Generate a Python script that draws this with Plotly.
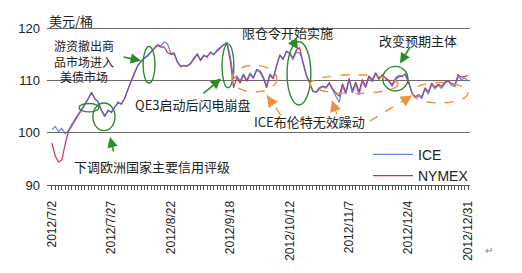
import pandas as pd
import plotly.graph_objects as go

# ---- data ----
holidays = ["2012-07-04", "2012-09-03", "2012-11-22", "2012-12-25"]
trade_days = [d for d in pd.bdate_range("2012-07-02", "2012-12-31") if d.strftime("%Y-%m-%d") not in holidays]
date_labels = [f"{d.year}/{d.month}/{d.day}" for d in trade_days]
label_every = 18

ice = [100.6, 101.2, 100.2, 100.8, 99.8, 100.4, 101.6, 102.6, 103.6, 104.4,
       105.6, 106.6, 107.8, 106.4, 106.0, 104.2, 103.0, 104.4, 103.8, 105.0,
       105.9, 105.4, 106.6, 108.4, 110.0, 111.6, 112.8, 113.8, 114.2, 114.9,
       115.4, 116.3, 116.9, 116.6, 117.4, 117.0, 115.2, 115.3, 113.6, 112.6,
       112.9, 112.7, 113.4, 114.4, 115.1, 114.0, 114.9, 114.4, 115.5, 114.9,
       115.9, 116.4, 116.9, 117.3, 114.6, 110.4, 110.9, 109.9, 111.3, 110.1,
       111.4, 110.6, 112.1, 111.9, 110.7, 109.0, 111.3, 110.5, 112.9, 114.8,
       114.2, 115.5, 115.1, 114.0, 115.4, 115.3, 113.7, 111.2, 109.7, 108.1,
       107.7, 108.4, 108.8, 108.5, 109.4, 108.2, 107.2, 105.8, 108.9, 107.4,
       110.1, 107.6, 109.3, 107.2, 109.8, 108.6, 110.6, 109.8, 111.2, 110.2,
       110.9, 110.4, 109.8, 108.9, 110.1, 110.7, 110.9, 111.1, 109.5, 107.8,
       106.7, 107.0, 106.6, 108.3, 107.4, 109.2, 108.4, 109.1, 108.5, 109.4,
       109.9, 109.1, 108.8, 110.8, 110.2, 110.5, 109.9]

nymex = [98.0, 95.5, 94.4, 94.8, 97.8, 100.3, 101.3, 102.4, 103.4, 104.3,
         105.4, 106.7, 107.6, 106.6, 105.8, 104.3, 103.3, 104.2, 104.0, 104.9,
         105.7, 105.6, 106.5, 108.2, 109.9, 111.4, 112.9, 113.6, 114.3, 114.7,
         115.5, 116.1, 116.7, 116.4, 116.4, 115.3, 115.0, 115.1, 113.5, 112.7,
         112.8, 112.8, 113.2, 114.2, 115.0, 113.8, 114.7, 114.6, 115.3, 115.0,
         115.7, 116.2, 116.8, 117.1, 113.8, 108.6, 110.6, 109.5, 111.0, 109.8,
         111.2, 110.4, 112.0, 111.6, 110.5, 108.6, 111.0, 110.3, 112.6, 114.9,
         114.0, 115.6, 115.3, 114.3, 115.8, 116.3, 113.4, 111.0, 109.5, 107.9,
         107.8, 108.6, 108.9, 108.7, 109.6, 108.4, 107.6, 107.0, 109.4, 107.7,
         110.4, 108.0, 109.7, 107.8, 110.2, 108.9, 110.9, 110.1, 111.5, 110.4,
         111.1, 110.6, 110.0, 109.2, 110.4, 110.9, 110.7, 111.3, 109.8, 107.6,
         106.9, 107.3, 106.9, 108.6, 107.8, 109.5, 108.7, 109.3, 108.9, 109.7,
         110.0, 109.4, 109.1, 111.1, 110.6, 110.8, 110.9]

y_ticks = [90, 100, 110, 120]

# ---- figure ----
W, H = 522, 273
ML, MR, MT, MB = 47, 52, 23, 78
PW, PH = W - ML - MR, H - MT - MB
CJK = "Noto Sans CJK SC"
LAT = "Liberation Sans, Arial"

def px(X):
    return (X - ML) / PW

def py(Y):
    return (H - MB - Y) / PH

n = len(ice)
xs = list(range(n))
ticktext = [date_labels[i] if i % label_every == 0 else "" for i in xs]

fig = go.Figure()
fig.add_trace(go.Scatter(x=xs, y=nymex, mode="lines", name="NYMEX",
                         line=dict(color="#c8344c", width=1.2), legendrank=2,
                         legendgroup="b"))
fig.add_trace(go.Scatter(x=xs, y=ice, mode="lines", name="ICE",
                         line=dict(color="#4466d6", width=1.2), opacity=0.8,
                         legendrank=1, legendgroup="a"))

GREEN = "#2f8a2f"
ORANGE = "#f0903a"

def ell(x0, x1, y0, y1, color, dash="solid", width=1.4):
    fig.add_shape(type="circle", xref="x", yref="y", x0=x0, x1=x1, y0=y0, y1=y1,
                  line=dict(color=color, width=width, dash=dash), layer="above")

# green ellipses (data coordinates: index, price)
ell(8.2, 14.2, 104.0, 105.6, GREEN)
ell(12.4, 19.1, 100.4, 105.7, GREEN)
ell(27.6, 31.2, 109.5, 116.5, GREEN)
ell(51.5, 55.1, 108.6, 117.0, GREEN)
ell(71.2, 78.4, 105.3, 117.4, GREEN)
ell(100.2, 107.8, 108.0, 112.7, GREEN)
# orange dashed ellipses
ell(54.5, 68.1, 107.8, 112.9, ORANGE, "dash")
ell(78.1, 104.8, 107.5, 111.1, ORANGE, "dash")
ell(109.0, 126.0, 105.7, 109.6, ORANGE, "dash")

def text(X, Y, s, size=13, anchor="left", font=CJK, color="#222222"):
    fig.add_annotation(x=px(X), y=py(Y), xref="paper", yref="paper", text=s,
                       showarrow=False, xanchor=anchor, yanchor="middle", align="center",
                       font=dict(family=font, size=size, color=color))

text(47, 20, "美元/桶")
text(84, 63, "游资撤出商<br>品市场进入<br>美债市场", size=12, anchor="center")
text(72, 175, "下调欧洲国家主要信用评级")
text(133, 110, "QE3启动后闪电崩盘")
text(252, 128, "ICE布伦特无效躁动")
text(240, 33, "限仓令开始实施")
text(377, 42, "改变预期主体")
text(483, 263, "↵", size=10, color="#888888")

def arrow(tx, ty, hx, hy, color):
    fig.add_annotation(x=px(hx), y=py(hy), xref="paper", yref="paper", text="",
                       showarrow=True, ax=tx - hx, ay=ty - hy, axref="pixel", ayref="pixel",
                       arrowhead=2, arrowsize=1.3, arrowwidth=1.6, arrowcolor=color)

arrow(122, 59, 141, 63, GREEN)
arrow(114, 160, 110, 144, GREEN)
arrow(202, 98, 221, 82, GREEN)
arrow(291, 40, 298, 51, GREEN)
arrow(411, 48, 400, 66, GREEN)

def dashed_arrow(tx, ty, hx, hy):
    fig.add_shape(type="line", xref="paper", yref="paper", x0=px(tx), y0=py(ty),
                  x1=px(hx), y1=py(hy), line=dict(color=ORANGE, width=1.4, dash="dash"))
    dx, dy = tx - hx, ty - hy
    L = (dx * dx + dy * dy) ** 0.5
    fig.add_annotation(x=px(hx), y=py(hy), xref="paper", yref="paper", text="",
                       showarrow=True, ax=dx / L * 7, ay=dy / L * 7, axref="pixel", ayref="pixel",
                       arrowhead=2, arrowsize=1.4, arrowwidth=1.6, arrowcolor=ORANGE)

dashed_arrow(281, 121, 267, 100)
dashed_arrow(337, 120, 332, 105)
dashed_arrow(370, 127, 412, 100)

fig.update_layout(
    width=W, height=H,
    margin=dict(l=ML, r=MR, t=MT, b=MB),
    paper_bgcolor="white", plot_bgcolor="white",
    font=dict(family=LAT, size=12, color="#222222"),
    showlegend=True,
    legend=dict(x=px(368), y=py(146), xanchor="left", yanchor="top",
                bgcolor="rgba(0,0,0,0)", font=dict(family=LAT, size=14, color="#222222"),
                itemwidth=40, tracegroupgap=2, traceorder="normal"),
    xaxis=dict(range=[-1.5, 126.6], tickmode="array", tickvals=xs, ticktext=ticktext,
               tickangle=-90, ticks="outside", ticklen=4, tickcolor="#555555",
               showline=True, linecolor="#555555", linewidth=1, showgrid=False,
               zeroline=False, ticklabelstandoff=6,
               tickfont=dict(family=LAT, size=12, color="#222222")),
    yaxis=dict(range=[90, 121], tickvals=y_ticks, showgrid=True, gridcolor="#6a6a6a",
               gridwidth=1, zeroline=False, showline=False, ticks="",
               ticklabelstandoff=6, tickfont=dict(family=LAT, size=13, color="#222222")),
)

fig.write_html("out.html")
